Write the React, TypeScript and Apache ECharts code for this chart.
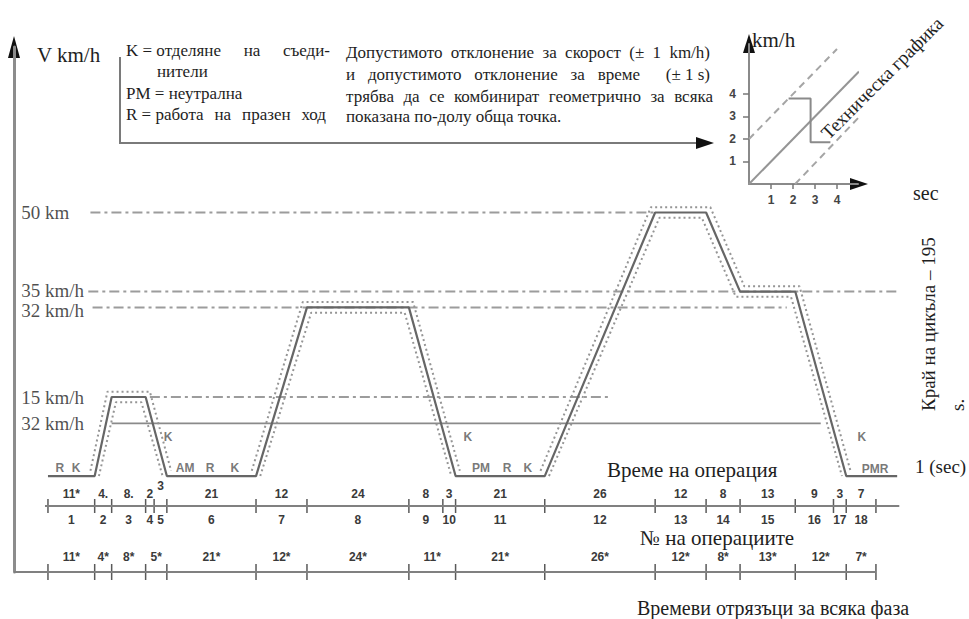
import React, { useEffect, useRef } from 'react';
import * as echarts from 'echarts';

// ---- Data (ECE-15 urban cycle) ----
const cycleTime = [0, 11, 15, 23, 28, 49, 61, 85, 96, 117, 143, 155, 163, 176, 188, 200];
const cycleSpeed = [0, 0, 15, 15, 0, 0, 32, 32, 0, 0, 50, 50, 35, 35, 0, 0];
const TOL_SPEED = 1; // ± 1 km/h
const TOL_TIME = 1; // ± 1 s

const refLevels = [50, 35, 32, 15, 10];
const refStart = [10, 9.5, 10.5, 24, 15];
const refEnd = [143, 200, 174, 132, 182];
const refLabels = ['50 km', '35 km/h', '32 km/h', '15 km/h', '32 km/h'];

const tagNames = ['R', 'K', 'K', 'AM', 'R', 'K', 'K', 'PM', 'R', 'K', 'K', 'PMR'];
const tagTime = [2.8, 6.6, 28.3, 32.3, 38.2, 44, 98.9, 102, 108.1, 113, 191.7, 194.8];
const tagSpeed = [1.6, 1.6, 7.4, 1.5, 1.5, 1.5, 7.4, 1.6, 1.6, 1.6, 7.4, 1.4];

const opDurations = [11, 4, 8, 2, 3, 21, 12, 24, 8, 3, 21, 26, 12, 8, 13, 9, 3, 7];
const opTimeLabels = ['11*', '4.', '8.', '2', '3', '21', '12', '24', '8', '3', '21', '26', '12', '8', '13', '9', '3', '7'];
const opNumbers = ['1', '2', '3', '4', '5', '6', '7', '8', '9', '10', '11', '12', '13', '14', '15', '16', '17', '18'];

const phaseDurations = [11, 4, 8, 5, 21, 12, 24, 11, 21, 26, 12, 8, 13, 12, 7];
const phaseLabels = ['11*', '4*', '8*', '5*', '21*', '12*', '24*', '11*', '21*', '26*', '12*', '8*', '13*', '12*', '7*'];

const insetIdeal = [[0, 0], [5, 5]];
const insetUpper = [[0, 2], [4, 6]];
const insetLower = [[2.1, 0], [6.1, 4.1]];
const insetStep = [[1.8, 3.8], [2.8, 3.8], [2.8, 1.85], [3.7, 1.85]];
const insetTicks = [1, 2, 3, 4];

// ---- Layout ----
const X_MIN = -8;
const X_MAX = 205;
const PLOT_LEFT = 14;
const PLOT_WIDTH = 904.4;
const LABEL_X = -6.4;
const SERIF = 'Liberation Serif';
const SANS = 'Liberation Sans';
const INK = '#1e1e1e';

let measureCtx: CanvasRenderingContext2D | null = null;
function measure(text: string, size: number): number {
  if (!measureCtx) measureCtx = document.createElement('canvas').getContext('2d');
  if (!measureCtx) return text.length * size * 0.5;
  measureCtx.font = `${size}px "${SERIF}"`;
  return measureCtx.measureText(text).width;
}

function serif(text: string, x: number, y: number, size: number, extra: any = {}) {
  const { align, ...rest } = extra;
  return {
    type: 'text',
    x,
    y,
    silent: true,
    ...rest,
    style: {
      text,
      fontSize: size,
      fontFamily: SERIF,
      fill: INK,
      textAlign: align || 'left',
      textVerticalAlign: 'middle',
    },
  };
}

function justified(text: string, x0: number, x1: number, y: number, size: number) {
  const parts = text.split(' ');
  const words: string[] = [];
  const gaps: number[] = [];
  let extra = 0;
  for (const p of parts) {
    if (p === '') {
      extra += 1;
      continue;
    }
    if (words.length) gaps.push(1 + extra);
    extra = 0;
    words.push(p);
  }
  const widths = words.map((w) => measure(w, size));
  const total = widths.reduce((a, b) => a + b, 0);
  const gapSum = gaps.reduce((a, b) => a + b, 0) || 1;
  const unit = (x1 - x0 - total) / gapSum;
  const out: any[] = [];
  let x = x0;
  words.forEach((w, i) => {
    out.push(serif(w, x, y, size));
    x += widths[i] + (i < gaps.length ? gaps[i] * unit : 0);
  });
  return out;
}

// humps of the speed profile (for tolerance envelopes)
function findHumps(): number[][] {
  const humps: number[][] = [];
  let cur: number[] | null = null;
  for (let i = 0; i < cycleSpeed.length; i++) {
    const v = cycleSpeed[i];
    const next = cycleSpeed[i + 1];
    if (!cur) {
      if (v === 0 && next !== undefined && next > 0) cur = [i];
    } else {
      cur.push(i);
      if (v === 0) {
        humps.push(cur);
        cur = null;
      }
    }
  }
  return humps;
}

function envelope(h: number[], s: number) {
  return h.map((idx, pos) => {
    const t = cycleTime[idx];
    const v = cycleSpeed[idx];
    const dPrev = pos === 0 ? 0 : Math.sign(v - cycleSpeed[idx - 1]);
    const dNext = pos === h.length - 1 ? 0 : Math.sign(cycleSpeed[idx + 1] - v);
    const rising = dPrev > 0 || dNext > 0;
    const falling = dPrev < 0 || dNext < 0;
    const dt = rising ? -1 : falling ? 1 : 0;
    return [t + s * dt * TOL_TIME, Math.max(0, v + s * TOL_SPEED)];
  });
}

const ROW_LABEL = {
  fill: '#3a3a3a',
  fontSize: 12,
  fontWeight: 'bold',
  fontFamily: SANS,
  textAlign: 'center',
  textVerticalAlign: 'middle',
};

function makeRow(axis: number, durations: number[], top: string[], bottom: string[] | null, tickHalf: number, topGap: number, bottomGap: number) {
  const starts: number[] = [];
  let acc = 0;
  durations.forEach((d) => {
    starts.push(acc);
    acc += d;
  });
  return {
    type: 'custom',
    xAxisIndex: axis,
    yAxisIndex: axis,
    clip: false,
    silent: true,
    encode: { x: [0, 1], y: 2 },
    data: durations.map((d, i) => [starts[i], starts[i] + d, 0]),
    renderItem: (params: any, api: any) => {
      const i = params.dataIndex;
      const a = api.coord([api.value(0), 0]);
      const b = api.coord([api.value(1), 0]);
      const mid = (a[0] + b[0]) / 2;
      const tick = (x: number) => ({
        type: 'line',
        shape: { x1: x, y1: a[1] - tickHalf, x2: x, y2: a[1] + tickHalf },
        style: { stroke: '#5a5a5a', lineWidth: 1.5 },
      });
      const children: any[] = [tick(a[0])];
      if (i === durations.length - 1) children.push(tick(b[0]));
      const raised = bottom && i > 0 && durations[i] <= 3 && durations[i - 1] <= 3;
      children.push({ type: 'text', x: mid, y: a[1] - topGap - (raised ? 8 : 0), style: { text: top[i], ...ROW_LABEL } });
      if (bottom) children.push({ type: 'text', x: mid, y: a[1] + bottomGap, style: { text: bottom[i], ...ROW_LABEL } });
      return { type: 'group', children };
    },
  };
}

function buildOption() {
  const series: any[] = [];
  const base = { type: 'line', symbol: 'none', silent: true, clip: false };

  refLevels.forEach((lv, i) => {
    const solid = i === refLevels.length - 1;
    series.push({
      ...base,
      xAxisIndex: 0,
      yAxisIndex: 0,
      data: [[refStart[i], lv], [refEnd[i], lv]],
      lineStyle: solid
        ? { color: '#8a8a8a', width: 1.6, type: 'solid' }
        : { color: '#9c9c9c', width: 2, type: [10, 4, 3, 4] },
    });
  });

  findHumps().forEach((h) => {
    [1, -1].forEach((s) => {
      series.push({
        ...base,
        xAxisIndex: 0,
        yAxisIndex: 0,
        data: envelope(h, s),
        lineStyle: { color: '#959595', width: 2, type: [2, 3] },
      });
    });
  });

  series.push({
    ...base,
    xAxisIndex: 0,
    yAxisIndex: 0,
    data: cycleTime.map((t, i) => [t, cycleSpeed[i]]),
    lineStyle: { color: '#666666', width: 2.2 },
  });

  series.push({
    type: 'scatter',
    xAxisIndex: 0,
    yAxisIndex: 0,
    silent: true,
    symbolSize: 1,
    itemStyle: { color: 'rgba(0,0,0,0)' },
    data: refLevels.map((lv, i) => ({
      value: [LABEL_X, lv],
      name: refLabels[i],
      label: lv === 32 ? { offset: [0, 3] } : lv === 35 ? { offset: [0, -1] } : undefined,
    })),
    label: { show: true, position: 'right', distance: 0, formatter: '{b}', fontFamily: SERIF, fontSize: 19, color: INK },
  });

  series.push({
    type: 'scatter',
    xAxisIndex: 0,
    yAxisIndex: 0,
    silent: true,
    symbolSize: 1,
    itemStyle: { color: 'rgba(0,0,0,0)' },
    data: tagNames.map((n, i) => ({ value: [tagTime[i], tagSpeed[i]], name: n })),
    label: { show: true, position: 'inside', formatter: '{b}', fontFamily: SANS, fontWeight: 'bold', fontSize: 12, color: '#555' },
  });

  // operation row
  series.push({ ...base, xAxisIndex: 1, yAxisIndex: 1, data: [[-0.7, 0], [200.5, 0]], lineStyle: { color: '#808080', width: 2 } });
  series.push(makeRow(1, opDurations, opTimeLabels, opNumbers, 7, 12, 14));
  // phase row
  series.push({ ...base, xAxisIndex: 2, yAxisIndex: 2, data: [[X_MIN, 0], [195, 0]], lineStyle: { color: '#808080', width: 2 } });
  series.push(makeRow(2, phaseDurations, phaseLabels, null, 8, 15, 0));

  // inset
  const inset = { ...base, xAxisIndex: 3, yAxisIndex: 3 };
  series.push({ ...inset, data: insetIdeal, lineStyle: { color: '#959595', width: 2 } });
  series.push({ ...inset, data: insetUpper, lineStyle: { color: '#a5a5a5', width: 2, type: [7, 5] } });
  series.push({ ...inset, data: insetLower, lineStyle: { color: '#a5a5a5', width: 2, type: [7, 5] } });
  series.push({ ...inset, data: insetStep, lineStyle: { color: '#8a8a8a', width: 2 } });

  const hiddenX = { type: 'value', show: false, min: X_MIN, max: X_MAX };
  const hiddenY = { type: 'value', show: false, min: -1, max: 1 };
  const insetAxisLine = { show: true, onZero: false, lineStyle: { color: '#8a8a8a', width: 2 } };
  const insetLabel = {
    customValues: insetTicks,
    color: '#444',
    fontFamily: SANS,
    fontWeight: 'bold',
    fontSize: 12,
    formatter: (v: number) => (v >= 1 && v <= 4 ? String(v) : ''),
  };

  const graphic: any[] = [
    serif('V km/h', 37, 55, 21),
    ...justified('K\u00a0=\u00a0отделяне на съеди-', 126, 330, 50, 17),
    serif('нители', 157, 71, 17),
    serif('PM = неутрална', 126, 93, 17),
    ...justified('R\u00a0=\u00a0работа на празен ход', 126, 326, 114, 17),
    ...justified('Допустимото отклонение за скорост (± 1 km/h)', 346, 710, 52, 17),
    ...justified('и допустимото отклонение за време  (±\u00a01\u00a0s)', 346, 710, 74, 17),
    ...justified('трябва да се комбинират геометрично за всяка', 346, 713, 96, 17),
    serif('показана по-долу обща точка.', 346, 116, 17),
    {
      type: 'polyline',
      silent: true,
      shape: { points: [[120, 57], [120, 143], [700, 143]] },
      style: { stroke: '#7a7a7a', lineWidth: 2, fill: null },
    },
    { type: 'polygon', silent: true, shape: { points: [[714, 143], [696, 137], [696, 149]] }, style: { fill: '#111' } },
    { type: 'polygon', silent: true, shape: { points: [[14, 36], [8, 58], [20, 58]] }, style: { fill: '#111' } },
    { type: 'polygon', silent: true, shape: { points: [[749, 34], [743, 53], [755, 53]] }, style: { fill: '#111' } },
    { type: 'polygon', silent: true, shape: { points: [[868, 184], [850, 178], [850, 190]] }, style: { fill: '#111' } },
    serif('km/h', 752, 40, 21),
    serif('Техническа графика', 882, 78, 19, { rotation: Math.PI / 4, align: 'center' }),
    serif('sec', 913, 193, 20),
    serif('Край на цикъла – 195', 928, 411, 19, { rotation: Math.PI / 2 }),
    serif('s.', 957, 411, 19, { rotation: Math.PI / 2 }),
    serif('1 (sec)', 915, 466, 19),
    serif('Време на операция', 607, 470, 21),
    serif('№ на операциите', 640, 538, 21),
    serif('Времеви отрязъци за всяка фаза', 637, 608, 20),
  ];

  return {
    animation: false,
    backgroundColor: '#ffffff',
    grid: [
      { left: PLOT_LEFT, top: 47, width: PLOT_WIDTH, height: 525 },
      { left: PLOT_LEFT, top: 494, width: PLOT_WIDTH, height: 24 },
      { left: PLOT_LEFT, top: 560, width: PLOT_WIDTH, height: 24 },
      { left: 749, top: 44, width: 109, height: 140 },
    ],
    xAxis: [
      { ...hiddenX, gridIndex: 0 },
      { ...hiddenX, gridIndex: 1 },
      { ...hiddenX, gridIndex: 2 },
      {
        type: 'value',
        gridIndex: 3,
        min: 0,
        max: 4.955,
        interval: 1,
        axisLine: insetAxisLine,
        axisTick: { show: true, customValues: insetTicks, length: 5, lineStyle: { color: '#777', width: 1.5 } },
        axisLabel: { ...insetLabel, margin: 10 },
        splitLine: { show: false },
      },
    ],
    yAxis: [
      {
        type: 'value',
        gridIndex: 0,
        min: -18.2,
        max: 81.4,
        axisLine: { show: true, onZero: false, lineStyle: { color: '#8c8c8c', width: 3 } },
        axisTick: { show: false },
        axisLabel: { show: false },
        splitLine: { show: false },
      },
      { ...hiddenY, gridIndex: 1 },
      { ...hiddenY, gridIndex: 2 },
      {
        type: 'value',
        gridIndex: 3,
        min: 0,
        max: 6.222,
        interval: 1,
        axisLine: insetAxisLine,
        axisTick: { show: true, customValues: insetTicks, length: 6, lineStyle: { color: '#777', width: 1.5 } },
        axisLabel: { ...insetLabel, margin: 13 },
        splitLine: { show: false },
      },
    ],
    series,
    graphic,
  };
}

export default function App() {
  const ref = useRef<HTMLDivElement>(null);
  useEffect(() => {
    if (!ref.current) return;
    const chart = echarts.init(ref.current, null, { renderer: 'svg' });
    chart.setOption(buildOption() as any);
    return () => chart.dispose();
  }, []);
  return (
    <div
      ref={ref}
      style={{ position: 'absolute', left: 0, top: 0, width: 969, height: 619, background: '#fff' }}
    />
  );
}
